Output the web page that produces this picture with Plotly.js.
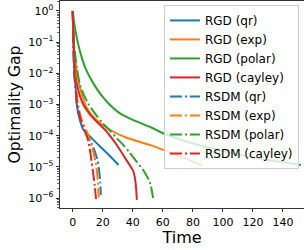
<!DOCTYPE html>
<html>
<head>
<meta charset="utf-8">
<script src="https://cdn.plot.ly/plotly-3.0.1.min.js"></script>
<style>html,body{margin:0;padding:0;background:#fff;overflow:hidden}#chart{width:304px;height:250px}</style>
</head>
<body>
<div id="chart"></div>
<script>
const seriesNames = ["RGD (qr)","RGD (exp)","RGD (polar)","RGD (cayley)","RSDM (qr)","RSDM (exp)","RSDM (polar)","RSDM (cayley)"];

const rgdQrTime = [0,0.5,1.0,2.0,2.7,4.5,7.1,12,17,24,30.5];
const rgdQrGap  = [1,0.1,0.0126,0.0032,0.001,3.5e-4,1.55e-4,8.9e-5,5.1e-5,2.4e-5,1.15e-5];

const rgdExpTime = [0,0.6,1.5,2.7,4.9,9.3,15,24.7,35,52.7,71,86];
const rgdExpGap  = [1,0.1,0.032,0.0112,0.0034,7.9e-4,3.5e-4,1.55e-4,8.9e-5,4.8e-5,2.2e-5,1.12e-5];

const rgdPolarTime = [0,1,3.3,6,9,14,19,25,31,40,52.7,60,80,100,120,140,152];
const rgdPolarGap  = [1,0.40,0.10,0.032,0.0126,0.0045,0.0020,9.5e-4,5.4e-4,3.2e-4,1.8e-4,1.2e-4,5.6e-5,3.2e-5,2.0e-5,1.4e-5,1.15e-5];

const rgdCayleyTime = [0,0.5,1.5,3.3,7.1,12,17,21.5,26,30,34.9,38,40.4,41.8,42.7];
const rgdCayleyGap  = [1,0.126,0.0112,0.0034,9.8e-4,4.5e-4,2.5e-4,1.55e-4,8.3e-5,4.5e-5,1.9e-5,1.12e-5,7.1e-6,3.2e-6,8.7e-7];

const rsdmQrTime = [0,0.4,1,2,2.7,5,9,13,16,17.5,18.3,18.7];
const rsdmQrGap  = [1,0.1,0.01,0.0025,0.001,3.2e-4,1.26e-4,5e-5,2e-5,7.9e-6,3.2e-6,1.26e-6];

const rsdmExpTime = [0,0.5,1.2,2.3,3.5,6,10,13,15.3,16.6,17.3];
const rsdmExpGap  = [1,0.1,0.0126,0.0032,0.001,3.2e-4,1.12e-4,4e-5,1.35e-5,4e-6,1.05e-6];

const rsdmPolarTime = [0,0.8,2.7,5,10,15,20,25,29.3,34,38,42,46.9,51.3,53.5];
const rsdmPolarGap  = [1,0.1,0.0158,0.004,0.00112,5e-4,2.5e-4,1.41e-4,8.3e-5,4.8e-5,2.8e-5,1.58e-5,7.9e-6,3.2e-6,1e-6];

const rsdmCayleyTime = [0,0.4,1,2.2,3,6,10.2,12.4,13.6,14.6,15.5];
const rsdmCayleyGap  = [1,0.1,0.0126,0.0025,0.001,2.5e-4,7.2e-5,1.66e-5,6.3e-6,2.5e-6,9.3e-7];

const xTicks = [0,20,40,60,80,100,120,140];
const yTickVals = [1e-6,1e-5,1e-4,1e-3,1e-2,1e-1,1];
const yTickText = ["10<sup>−6</sup>","10<sup>−5</sup>","10<sup>−4</sup>","10<sup>−3</sup>","10<sup>−2</sup>","10<sup>−1</sup>","10<sup>0</sup>"];

const colors = ["#1f77b4","#ff7f0e","#2ca02c","#d62728"];
const xs = [rgdQrTime,rgdExpTime,rgdPolarTime,rgdCayleyTime,rsdmQrTime,rsdmExpTime,rsdmPolarTime,rsdmCayleyTime];
const ys = [rgdQrGap,rgdExpGap,rgdPolarGap,rgdCayleyGap,rsdmQrGap,rsdmExpGap,rsdmPolarGap,rsdmCayleyGap];

const traces = seriesNames.map((n,i)=>({
  x: xs[i], y: ys[i], name: n, type:'scatter', mode:'lines',
  line:{color: colors[i%4], width:2, shape:'spline', smoothing:0.8, dash: i<4 ? 'solid' : '12px,3px,2px,3px'}
}));

const minor = [];
for (let k=-7;k<=0;k++) for (let m=2;m<=9;m++) minor.push(m*Math.pow(10,k));

const font = {family:'DejaVu Sans, sans-serif', color:'#000'};
const layout = {
  width:304, height:250,
  margin:{l:60, r:0, t:1, b:42},
  paper_bgcolor:'#fff', plot_bgcolor:'#fff',
  showlegend:true,
  font: Object.assign({size:11}, font),
  xaxis:{
    range:[-8.5,154], tickvals:xTicks, ticks:'outside', ticklen:3.5, tickwidth:0.8, tickcolor:'#000',
    showline:true, linecolor:'#000', linewidth:0.8, mirror:true, showgrid:false, zeroline:false,
    tickfont:Object.assign({size:11}, font),
    title:{text:'Time', font:Object.assign({size:16}, font), standoff:2}
  },
  yaxis:{
    type:'log', range:[-6.32,0.32], tickvals:yTickVals, ticktext:yTickText,
    ticks:'outside', ticklen:3.5, tickwidth:0.8, tickcolor:'#000',
    minor:{tickvals:minor, ticks:'outside', ticklen:2, tickwidth:0.6, tickcolor:'#000', showgrid:false},
    showline:true, linecolor:'#000', linewidth:0.8, showgrid:false, zeroline:false,
    tickfont:Object.assign({size:11}, font),
    title:{text:'Optimality Gap', font:Object.assign({size:15.6}, font), standoff:3}
  },
  legend:{
    x:0.426, y:0.981, xanchor:'left', yanchor:'top',
    bgcolor:'rgba(255,255,255,0.8)', bordercolor:'#cccccc', borderwidth:1,
    font:Object.assign({size:12}, font), itemwidth:30, tracegroupgap:0
  }
};

Plotly.newPlot('chart', traces, layout, {displayModeBar:false, staticPlot:true});
</script>
</body>
</html>
